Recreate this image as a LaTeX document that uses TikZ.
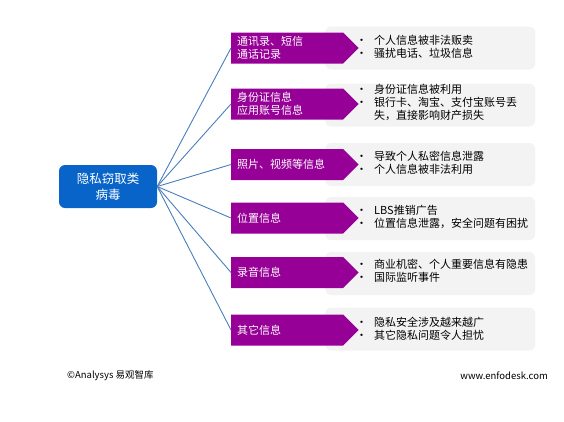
\documentclass[tikz,border=0pt]{standalone}
\usepackage{fontspec}
\setmainfont{Noto Sans CJK SC}
\usetikzlibrary{shapes.symbols}
\definecolor{cpurple}{RGB}{150,0,150}
\definecolor{cblue}{RGB}{8,100,200}
\definecolor{cline}{RGB}{74,126,187}
\definecolor{cgray}{RGB}{243,243,243}
\tikzset{
  hub/.style={draw=none,fill=cblue,rounded corners=6pt,minimum width=98pt,minimum height=43pt,text=white,font=\fontsize{12.5}{15.5}\selectfont,align=center,inner sep=0pt},
  cat/.style={signal,signal to=east,signal pointer angle=90,fill=cpurple,text=white,minimum height=31pt,minimum width=119pt,inner xsep=6pt,inner ysep=0pt,font=\fontsize{11}{12.6}\selectfont,align=left,text width=100pt,anchor=west},
  info/.style={fill=cgray,rounded corners=6pt,minimum width=210pt,minimum height=43pt,anchor=west},
  bul/.style={font=\fontsize{11}{12.5}\selectfont,anchor=west,inner sep=0pt,align=left},
  link/.style={draw=cline,line width=0.9pt},
  foot/.style={font=\fontsize{9.5}{11}\selectfont,inner sep=0pt}
}
\newcommand{\bl}[1]{\begin{tabular}{@{}p{18pt}@{}l@{}}#1\end{tabular}}
\begin{document}
\begin{tikzpicture}[x=1pt,y=-1pt]
\useasboundingbox (0,0) rectangle (564,421);
% gray info boxes
\node[info] (g1) at (325,48) {};
\node[info] (g2) at (325,105) {};
\node[info] (g3) at (325,164.5) {};
\node[info] (g4) at (325,218.5) {};
\node[info] (g5) at (325,273.5) {};
\node[info] (g6) at (325,329) {};
% hub
\node[hub] (hub) at (108,186.5) {隐私窃取类\\病毒};
% categories
\node[cat] (c1) at (231,48) {通讯录、短信\\通话记录};
\node[cat] (c2) at (231,104) {身份证信息\\应用账号信息};
\node[cat] (c3) at (231,164.5) {照片、视频等信息};
\node[cat] (c4) at (231,218) {位置信息};
\node[cat] (c5) at (231,272.5) {录音信息};
\node[cat] (c6) at (231,330) {其它信息};
% links
\foreach \i in {1,...,6}{\draw[link] (hub.east) -- (c\i.west);}
% bullets
\node[bul] (b1) at (356,48) {\bl{•&个人信息被非法贩卖\\•&骚扰电话、垃圾信息}};
\node[bul] (b2) at (356,104) {\bl{•&身份证信息被利用\\•&银行卡、淘宝、支付宝账号丢\\&失，直接影响财产损失}};
\node[bul] (b3) at (356,164.5) {\bl{•&导致个人私密信息泄露\\•&个人信息被非法利用}};
\node[bul] (b4) at (356,218) {\bl{•&LBS推销广告\\•&位置信息泄露，安全问题有困扰}};
\node[bul] (b5) at (356,272.5) {\bl{•&商业机密、个人重要信息有隐患\\•&国际监听事件}};
\node[bul] (b6) at (356,330) {\bl{•&隐私安全涉及越来越广\\•&其它隐私问题令人担忧}};
% footer
\node[foot,anchor=west] (f1) at (67,376) {©Analysys 易观智库};
\node[foot,anchor=east] (f2) at (548,376) {www.enfodesk.com};
\end{tikzpicture}
\end{document}
